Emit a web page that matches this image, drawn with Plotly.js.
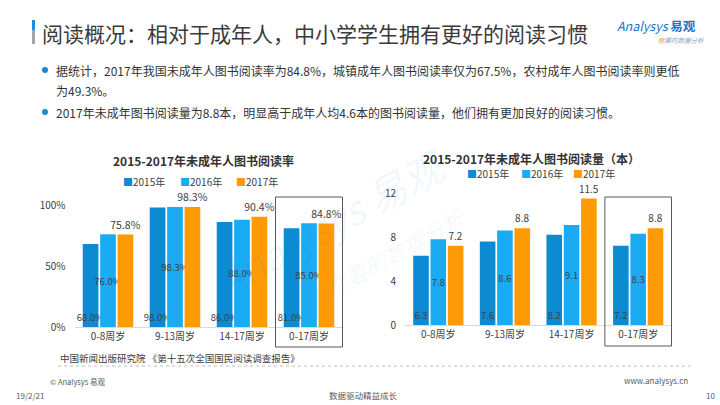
<!DOCTYPE html>
<html>
<head>
<meta charset="utf-8">
<script src="https://cdn.plot.ly/plotly-3.0.1.min.js"></script>
<style>
html,body{margin:0;padding:0;background:#fff;}
#chart{width:720px;height:405px;}
</style>
</head>
<body>
<div id="chart"></div>
<script>
// ---- data ----
const categories = ['0-8周岁', '9-13周岁', '14-17周岁', '0-17周岁'];
const seriesNames = ['2015年', '2016年', '2017年'];
const rate2015 = [68.0, 98.0, 86.0, 81.0];
const rate2016 = [76.0, 98.3, 88.0, 85.0];
const rate2017 = [75.8, 98.3, 90.4, 84.8];
const books2015 = [6.3, 7.6, 8.2, 7.2];
const books2016 = [7.8, 8.6, 9.1, 8.3];
const books2017 = [7.2, 8.8, 11.5, 8.8];
const rateTicks = [0, 50, 100];
const bookTicks = [0, 4, 8, 12];

const colors = ['#0c8bd3', '#1aabf3', '#fd9a05'];
const FONT = '"Noto Sans CJK SC", "Noto Sans", sans-serif';
const W = 720, H = 405;
const px = v => v / W;
const py = v => (H - v) / H;

function barTrace(vals, i, xa, ya, fmt, outSize) {
  const t = {
    type: 'bar', x: categories, y: vals, name: seriesNames[i],
    xaxis: xa, yaxis: ya, showlegend: false,
    marker: {color: colors[i], line: {width: 0}},
    text: vals.map(fmt), textangle: 0, constraintext: 'none',
    cliponaxis: false, hoverinfo: 'skip'
  };
  if (i === 2) {
    t.textposition = 'outside';
    t.textfont = {family: FONT, size: outSize, color: '#404040'};
  } else {
    t.textposition = 'inside';
    t.insidetextanchor = i === 0 ? 'start' : 'middle';
    t.textfont = {family: FONT, size: 9.5, color: '#404040'};
  }
  return t;
}
const pct = v => v.toFixed(1) + '%';
const num = v => v.toFixed(1);

const data = [
  barTrace(rate2015, 0, 'x', 'y', pct, 10.5),
  barTrace(rate2016, 1, 'x', 'y', pct, 10.5),
  barTrace(rate2017, 2, 'x', 'y', pct, 10.5),
  barTrace(books2015, 0, 'x2', 'y2', num, 10),
  barTrace(books2016, 1, 'x2', 'y2', num, 10),
  barTrace(books2017, 2, 'x2', 'y2', num, 10)
];

const tickFont = {family: FONT, size: 10, color: '#404040'};
const xBase = {type: 'category', showline: true, linecolor: '#d9d9d9', linewidth: 1,
  ticks: '', tickfont: tickFont, showgrid: false, zeroline: false, fixedrange: true};
const yBase = {showgrid: false, zeroline: false, showline: false, ticks: 'outside',
  ticklen: 6, tickcolor: 'rgba(0,0,0,0)', tickfont: tickFont, fixedrange: true};

function ann(text, x, y, size, color, opts) {
  return Object.assign({text: text, x: px(x), y: py(y), xref: 'paper', yref: 'paper',
    showarrow: false, xanchor: 'left', yanchor: 'middle', align: 'left',
    font: {family: FONT, size: size, color: color || '#404040'}}, opts || {});
}

const annotations = [
  // watermark
  ann('<i>Analysys 易观</i>', 330, 222, 40, 'rgba(20,130,210,0.06)', {xanchor: 'center', textangle: -29}),
  ann('<i>你要的数据分析</i>', 395, 252, 22, 'rgba(20,130,210,0.06)', {xanchor: 'center', textangle: -29}),
  // header
  ann('阅读概况：相对于成年人，中小学学生拥有更好的阅读习惯', 40, 33, 21, '#3a3a3a'),
  ann('<i>Analysys</i> <b>易观</b>', 615, 25, 12.5, '#1a72c8'),
  ann('<i><span style="color:#f0822a">你</span>要的数据分析</i>', 656, 40, 6.5, '#8aa6c8'),
  ann('据统计，2017年我国未成年人图书阅读率为84.8%，城镇成年人图书阅读率仅为67.5%，农村成年人图书阅读率则更低', 54, 70, 12, '#333333'),
  ann('为49.3%。', 54, 90, 12, '#333333'),
  ann('2017年未成年图书阅读量为8.8本，明显高于成年人均4.6本的图书阅读量，他们拥有更加良好的阅读习惯。', 54, 112, 12, '#333333'),
  // chart titles
  ann('<b>2015-2017年未成年人图书阅读率</b>', 111, 161, 12, '#333333'),
  ann('<b>2015-2017年未成年人图书阅读量（本）</b>', 421, 158, 12, '#333333'),
  // source & footer
  ann('中国新闻出版研究院 《第十五次全国国民阅读调查报告》', 58, 358, 9.5, '#404040'),
  ann('© Analysys 易观', 48, 381, 7.5, '#595959'),
  ann('19/2/21', 14, 395, 8, '#595959'),
  ann('数据驱动精益成长', 327, 395, 8.5, '#595959'),
  ann('www.analysys.cn', 622, 380, 8, '#595959'),
  ann('10', 704, 395, 8, '#595959')
];

// legends (one per chart), built from series names and colours
const legendLeftX = [121, 178, 234];
const legendRightX = [465, 519, 571];
seriesNames.forEach((n, i) => {
  const t = '<span style="color:' + colors[i] + '">■</span>' + n;
  annotations.push(ann(t, legendLeftX[i], 181, 10, '#404040'));
  annotations.push(ann(t, legendRightX[i], 174, 10, '#404040'));
});

const shapes = [
  {type: 'rect', xref: 'paper', yref: 'paper', x0: px(32), x1: px(35), y0: py(30), y1: py(20), fillcolor: '#1b8fdc', line: {width: 0}},
  {type: 'rect', xref: 'paper', yref: 'paper', x0: px(32), x1: px(35), y0: py(44), y1: py(30), fillcolor: '#a6a6a6', line: {width: 0}},
  {type: 'circle', xref: 'paper', yref: 'paper', x0: px(42), x1: px(48), y0: py(73), y1: py(67), fillcolor: '#1b87d0', line: {width: 0}},
  {type: 'circle', xref: 'paper', yref: 'paper', x0: px(42), x1: px(48), y0: py(115), y1: py(109), fillcolor: '#1b87d0', line: {width: 0}},
  {type: 'line', xref: 'paper', yref: 'paper', x0: px(58), x1: px(692), y0: py(366), y1: py(366), line: {color: '#bfbfbf', width: 1, dash: 'dot'}},
  {type: 'rect', xref: 'x', yref: 'paper', x0: 2.5, x1: 3.5, y0: py(347), y1: py(197), line: {color: '#595959', width: 1}},
  {type: 'rect', xref: 'x2', yref: 'paper', x0: 2.5, x1: 3.5, y0: py(346), y1: py(197), line: {color: '#595959', width: 1}}
];

const layout = {
  width: W, height: H, margin: {l: 0, r: 0, t: 0, b: 0},
  paper_bgcolor: '#ffffff', plot_bgcolor: 'rgba(0,0,0,0)',
  font: {family: FONT, color: '#404040'},
  barmode: 'group', bargap: 0.22, bargroupgap: 0.1,
  showlegend: false,
  xaxis: Object.assign({}, xBase, {domain: [px(74.5), px(343)], anchor: 'y'}),
  yaxis: Object.assign({}, yBase, {domain: [py(327), py(205)], range: [0, 100], tickvals: rateTicks, ticktext: rateTicks.map(v => v + '%'), anchor: 'x'}),
  xaxis2: Object.assign({}, xBase, {domain: [px(405), px(672)], anchor: 'y2'}),
  yaxis2: Object.assign({}, yBase, {domain: [py(325), py(193)], range: [0, 12], tickvals: bookTicks, anchor: 'x2'}),
  annotations: annotations,
  shapes: shapes
};

Plotly.newPlot('chart', data, layout, {displayModeBar: false, staticPlot: true});
</script>
</body>
</html>
